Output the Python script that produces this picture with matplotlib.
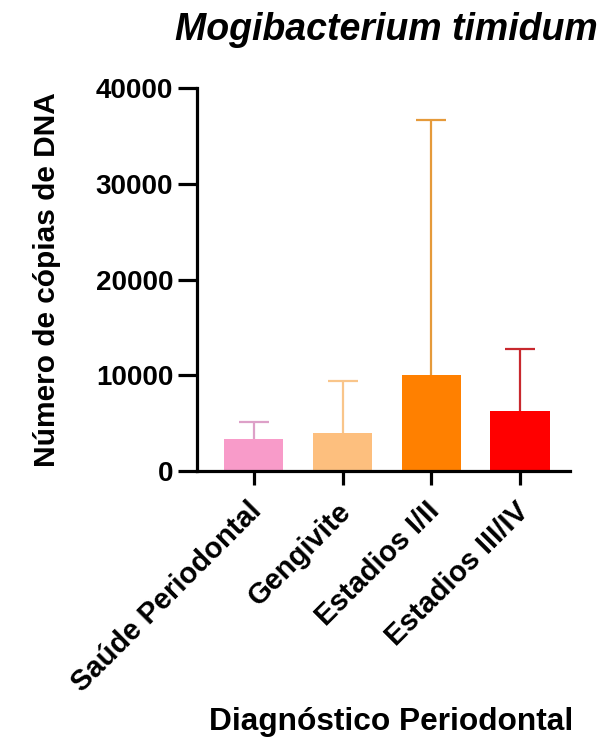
import matplotlib.pyplot as plt
from matplotlib.transforms import ScaledTranslation

plt.rcParams['font.family'] = ['Liberation Sans', 'DejaVu Sans']

categories = ["Saúde Periodontal", "Gengivite", "Estadios I/II", "Estadios III/IV"]
means = [3300, 4000, 10000, 6300]
upper_err = [1850, 5450, 26700, 6450]
bar_colors = ["#F89BC9", "#FDBF7E", "#FF8000", "#FF0000"]
err_colors = ["#DDA0C8", "#F9C58A", "#E59A3A", "#C8282E"]
y_ticks = [0, 10000, 20000, 30000, 40000]

fig = plt.figure(figsize=(6, 7.47), dpi=100)
ax = fig.add_axes([0.328, 0.3695, 0.622, 0.5125])

x = list(range(len(categories)))
ax.bar(x, means, width=0.67, color=bar_colors, zorder=2)
for i in x:
    _, caps, _ = ax.errorbar(i, means[i], yerr=[[0], [upper_err[i]]], fmt="none",
                             ecolor=err_colors[i], elinewidth=1.6, capsize=10.5,
                             capthick=1.6, zorder=1)
    caps[0].set_visible(False)  # only the upper cap is shown

ax.set_xlim(-0.64, 3.56)
ax.set_ylim(0, 40000)
ax.set_yticks(y_ticks)
ax.set_yticklabels([str(t) for t in y_ticks], fontsize=20, fontweight="bold")
ax.set_xticks(x)
ax.set_xticklabels([])

# slanted category labels hung below each tick
offset = ax.get_xaxis_transform() + ScaledTranslation(-0.06, -0.26, fig.dpi_scale_trans)
for i, name in zip(x, categories):
    ax.text(i, 0, name, transform=offset, rotation=45, ha="right", va="top",
            rotation_mode="anchor", fontsize=21, fontweight="bold")

for side in ["top", "right"]:
    ax.spines[side].set_visible(False)
for side in ["left", "bottom"]:
    ax.spines[side].set_linewidth(2.3)
ax.tick_params(axis="both", width=2.3, pad=3)
ax.tick_params(axis="y", length=14)
ax.tick_params(axis="x", length=10)

ax.set_ylabel("Número de cópias de DNA", fontsize=21.5, fontweight="bold", labelpad=25)
fig.text(0.652, 1 - 730 / 747, "Diagnóstico Periodontal", ha="center", va="baseline",
         fontsize=22.8, fontweight="bold")
ax.set_title("Mogibacterium timidum", fontsize=27, fontweight="bold",
             style="italic", pad=35, x=0.507)

fig.savefig("out.png", dpi=100)
